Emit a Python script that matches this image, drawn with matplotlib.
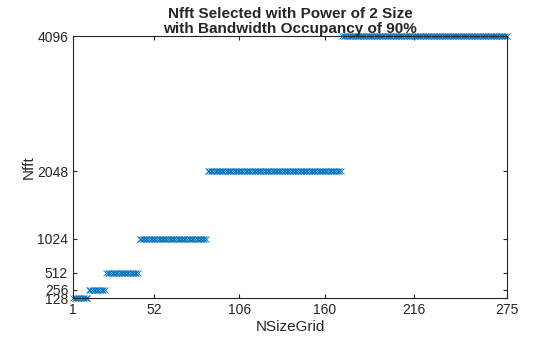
import numpy as np
import matplotlib
matplotlib.use("Agg")
from matplotlib import pyplot as plt

# Nfft picked for each NSizeGrid, read as runs of constant value
nfft_levels = [128, 256, 512, 1024, 2048, 4096]
run_starts = [1, 11, 22, 43, 86, 171]
run_ends = [10, 21, 42, 85, 170, 275]

xticks = [1, 52, 106, 160, 216, 275]
yticks = [128, 256, 512, 1024, 2048, 4096]

plt.rcParams['font.family'] = ['Liberation Sans', 'DejaVu Sans']

nsize = np.concatenate([np.arange(s, e + 1) for s, e in zip(run_starts, run_ends)])
nfft = np.concatenate([np.full(e - s + 1, v) for s, e, v in zip(run_starts, run_ends, nfft_levels)])

fig = plt.figure(figsize=(5.6, 3.37), dpi=100)
ax = fig.add_axes([73 / 560, 1 - 298 / 337, 434 / 560, 262 / 337])
ax.plot(nsize, nfft, 'x', color=(0, 0.447, 0.741), markersize=5, markeredgewidth=0.6,
        clip_on=False)

ax.set_xlim(1, 275)
ax.set_ylim(128, 4096)
ax.set_xticks(xticks)
ax.set_yticks(yticks)
ax.tick_params(direction='in', length=3, width=0.8, labelsize=10, top=True, right=True,
               colors='#262626')
for s in ax.spines.values():
    s.set_linewidth(0.8)
    s.set_color('#262626')

ax.set_xlabel('NSizeGrid', fontsize=11, color='#262626', labelpad=2)
ax.set_ylabel('Nfft', fontsize=11, color='#262626', labelpad=1)
ax.set_title('Nfft Selected with Power of 2 Size\nwith Bandwidth Occupancy of 90%',
             fontsize=11, fontweight='bold', color='#262626', pad=2, linespacing=1.1)

fig.savefig('out.png', dpi=100)
